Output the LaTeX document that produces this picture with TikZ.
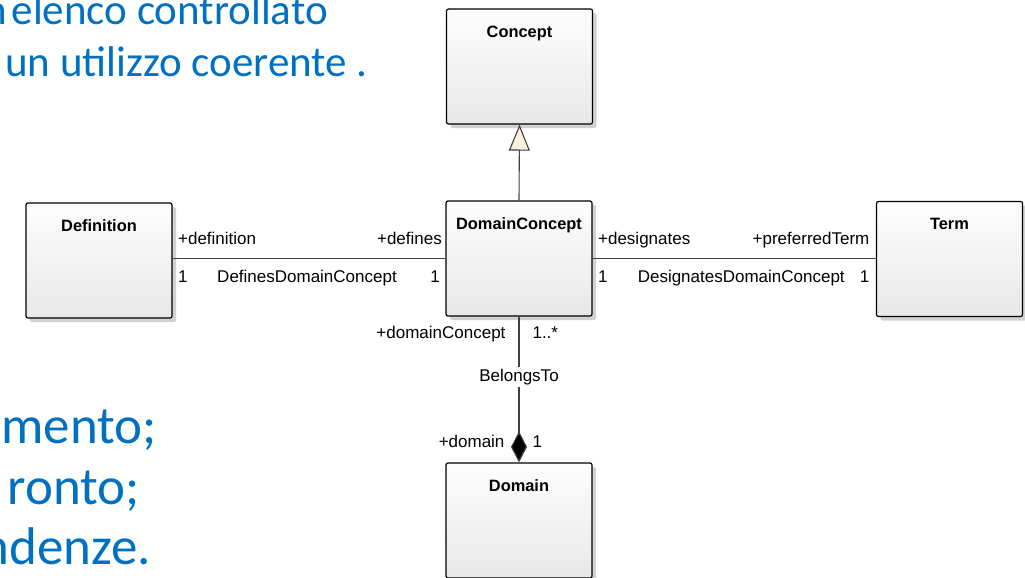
\documentclass[tikz,border=0pt]{standalone}
\usepackage{fontspec}
\setmainfont{Carlito}
\newfontfamily\umlfont{Liberation Sans}
\usetikzlibrary{arrows.meta,shadows,positioning}
\definecolor{slideblue}{RGB}{0,112,192}
\definecolor{boxtop}{RGB}{253,253,253}
\definecolor{boxbottom}{RGB}{232,232,232}
\definecolor{trianglefill}{RGB}{250,240,222}
\tikzset{
  umlclass/.style={draw=black, line width=1.2pt, rounded corners=2pt,
    top color=boxtop, bottom color=boxbottom, inner sep=0pt,
    minimum width=146pt, minimum height=115pt,
    drop shadow={shadow xshift=4pt, shadow yshift=-4pt, fill=black!35, opacity=.5}},
  classname/.style={font=\umlfont\fontsize{16.4}{19}\selectfont\bfseries, inner sep=0pt, anchor=base},
  rolename/.style={font=\umlfont\fontsize{17}{19}\selectfont, inner sep=0pt},
  assoc/.style={draw=black!75, line width=1.1pt},
  slidetext/.style={text=slideblue, inner sep=0pt, font=\fontsize{43}{50}\selectfont},
  slidebig/.style={text=slideblue, inner sep=0pt, font=\fontsize{53}{60}\selectfont}
}
\begin{document}
\begin{tikzpicture}[x=1pt,y=-1pt]
\useasboundingbox (0,0) rectangle (1025,578);
% Slide text behind the diagram
\node[slidetext, anchor=base east] (line1) at (328,25) {n\kern-5pt\ elenco controllato};
\node[slidetext, anchor=base east] (line2) at (368,77) {un utilizzo coerente .};
\node[slidebig, anchor=base east] (line3) at (157,443) {mento;};
\node[slidebig, anchor=base east] (line4) at (140,504) {ronto;};
\node[slidebig, anchor=base east] (line5) at (151,564) {ndenze.};
% Classes
\node[umlclass] (concept) at (519.5,66.5) {};
\node[classname] at ([yshift=-29pt]concept.north) {Concept};
\node[umlclass] (def) at (99,260.5) {};
\node[classname] at ([yshift=-29pt]def.north) {Definition};
\node[umlclass] (dc) at (519,258.5) {};
\node[classname] at ([yshift=-29pt]dc.north) {DomainConcept};
\node[umlclass] (term) at (949.5,259) {};
\node[classname] at ([yshift=-29pt]term.north) {Term};
\node[umlclass] (dom) at (519,520.5) {};
\node[classname] at ([yshift=-29pt]dom.north) {Domain};
% Generalization
\draw[assoc, -{Triangle[length=26pt,width=21pt,fill=trianglefill]}] (dc.north) -- (concept.south);
% DefinesDomainConcept
\draw[assoc] (def.east |- dc.west) -- (dc.west)
  node[rolename, pos=0, anchor=base west, xshift=5pt, yshift=14pt] {+definition}
  node[rolename, pos=0, anchor=base west, xshift=5pt, yshift=-24pt] {1}
  node[rolename, midway, anchor=base, xshift=-2pt, yshift=-24pt] {DefinesDomainConcept}
  node[rolename, pos=1, anchor=base east, xshift=-3pt, yshift=14pt] {+defines}
  node[rolename, pos=1, anchor=base east, xshift=-5pt, yshift=-24pt] {1};
% DesignatesDomainConcept
\draw[assoc] (dc.east) -- (term.west |- dc.east)
  node[rolename, pos=0, anchor=base west, xshift=5pt, yshift=14pt] {+designates}
  node[rolename, pos=0, anchor=base west, xshift=5pt, yshift=-24pt] {1}
  node[rolename, midway, anchor=base, xshift=7pt, yshift=-24pt] {DesignatesDomainConcept}
  node[rolename, pos=1, anchor=base east, xshift=-6pt, yshift=14pt] {+preferredTerm}
  node[rolename, pos=1, anchor=base east, xshift=-6pt, yshift=-24pt] {1};
% BelongsTo
\draw[assoc, -{Diamond[length=31pt,width=16pt,fill=black]}] (dc.south) -- (dom.north)
  node[rolename, pos=0, anchor=base east, xshift=-13pt, yshift=-22pt] {+domainConcept}
  node[rolename, pos=0, anchor=base west, xshift=13pt, yshift=-22pt] {1..*}
  node[rolename, pos=0.442, anchor=base, fill=white, inner sep=2pt] {BelongsTo}
  node[rolename, pos=1, anchor=base east, xshift=-14pt, yshift=15pt] {+domain}
  node[rolename, pos=1, anchor=base west, xshift=13pt, yshift=15pt] {1};
\end{tikzpicture}
\end{document}
